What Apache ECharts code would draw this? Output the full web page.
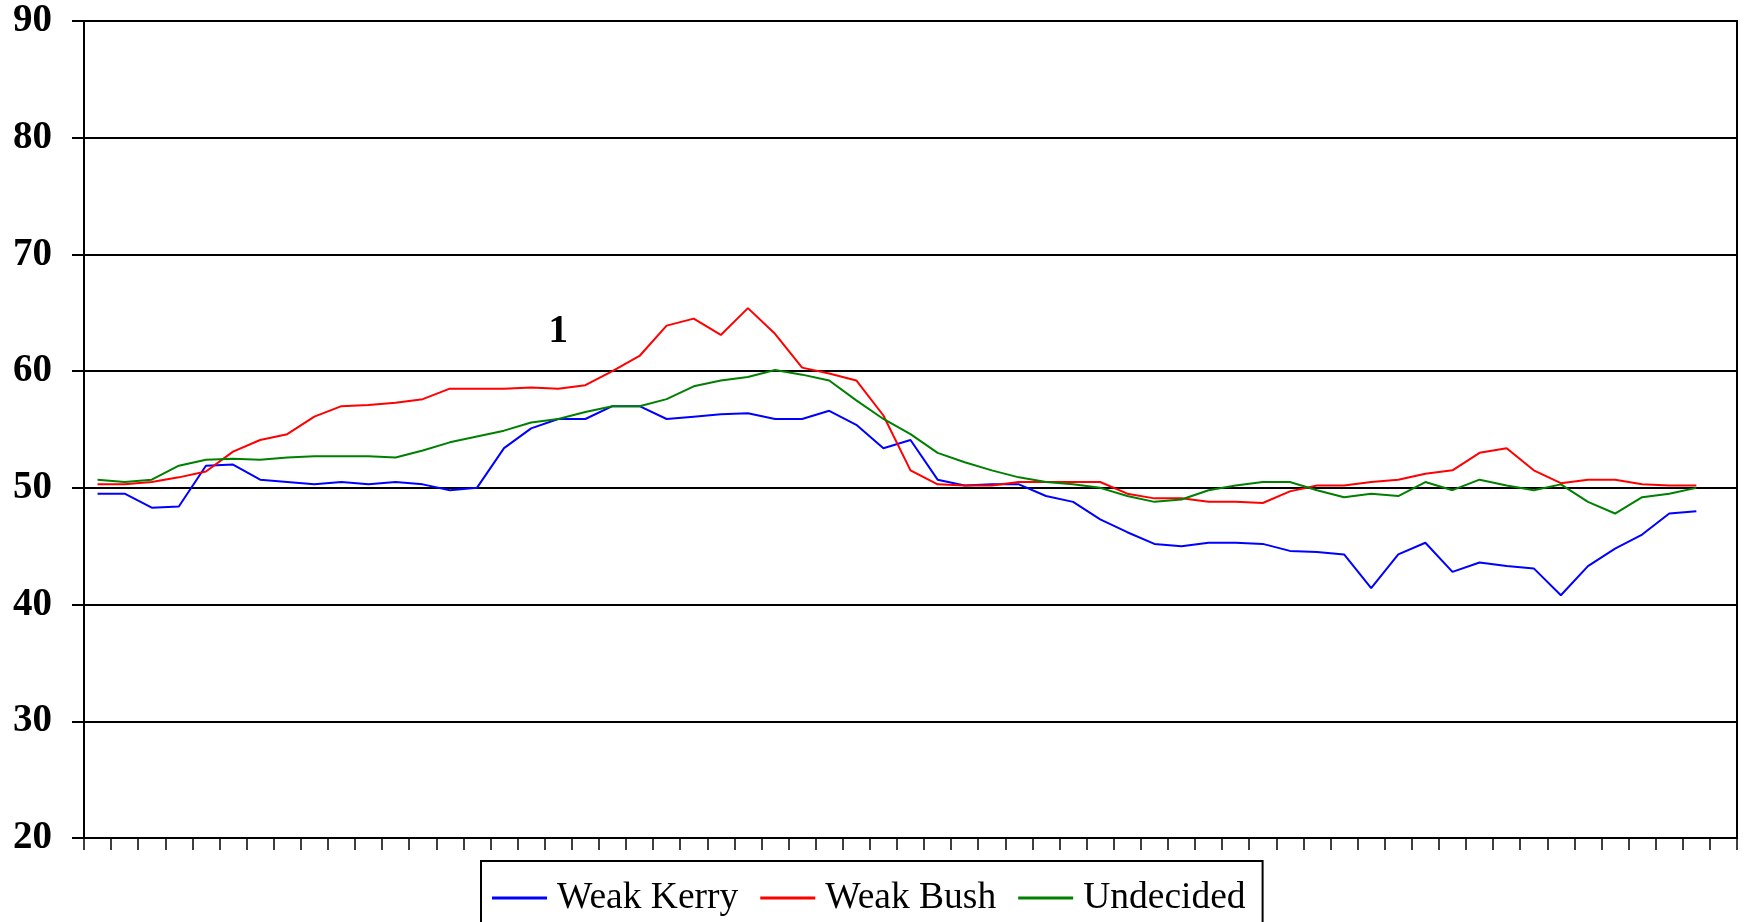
<!DOCTYPE html>
<html>
<head>
<meta charset="utf-8">
<script src="https://cdn.jsdelivr.net/npm/echarts@6/dist/echarts.min.js"></script>
<style>
html,body{margin:0;padding:0;background:#fff;}
#chart{width:1746px;height:922px;}
</style>
</head>
<body>
<div id="chart"></div>
<script>
// 61 weekly slots on the x axis (no labels); last slot empty
var categories = Array.from({length: 61}, function (_, i) { return String(i + 1); });

var weakKerry = [49.5,49.5,48.3,48.4,51.9,52.0,50.7,50.5,50.3,50.5,
                 50.3,50.5,50.3,49.8,50.0,53.4,55.1,55.9,55.9,57.0,
                 57.0,55.9,56.1,56.3,56.4,55.9,55.9,56.6,55.4,53.4,
                 54.1,50.7,50.2,50.3,50.3,49.3,48.8,47.3,46.2,45.2,
                 45.0,45.3,45.3,45.2,44.6,44.5,44.3,41.4,44.3,45.3,
                 42.8,43.6,43.3,43.1,40.8,43.3,44.8,46.0,47.8,48.0];

var weakBush = [50.3,50.3,50.5,50.9,51.4,53.1,54.1,54.6,56.1,57.0,
                57.1,57.3,57.6,58.5,58.5,58.5,58.6,58.5,58.8,60.0,
                61.3,63.9,64.5,63.1,65.4,63.2,60.3,59.8,59.2,56.2,
                51.5,50.3,50.2,50.2,50.5,50.5,50.5,50.5,49.5,49.1,
                49.1,48.8,48.8,48.7,49.7,50.2,50.2,50.5,50.7,51.2,
                51.5,53.0,53.4,51.5,50.4,50.7,50.7,50.3,50.2,50.2];

var undecided = [50.7,50.5,50.7,51.9,52.4,52.5,52.4,52.6,52.7,52.7,
                 52.7,52.6,53.2,53.9,54.4,54.9,55.6,55.9,56.5,57.0,
                 57.0,57.6,58.7,59.2,59.5,60.1,59.7,59.2,57.5,55.9,
                 54.6,53.0,52.2,51.5,50.9,50.5,50.3,50.0,49.3,48.8,
                 49.0,49.8,50.2,50.5,50.5,49.8,49.2,49.5,49.3,50.5,
                 49.8,50.7,50.2,49.8,50.3,48.8,47.8,49.2,49.5,50.0];

var seriesNames = ['Weak Kerry', 'Weak Bush', 'Undecided'];
var yTicks = [20, 30, 40, 50, 60, 70, 80, 90];

// annotation "1": category index and value
var noteText = '1';
var noteIndex = 17;
var noteValue = 63.35;

var serif = '"Liberation Serif", "Times New Roman", serif';
var chart = echarts.init(document.getElementById('chart'), null, {renderer: 'canvas'});

function mkSeries(name, data, color, extra) {
  var s = {
    name: name,
    type: 'line',
    data: data,
    symbol: 'none',
    showSymbol: false,
    lineStyle: {color: color, width: 2},
    itemStyle: {color: color},
    animation: false,
    z: 3
  };
  if (extra) { for (var k in extra) s[k] = extra[k]; }
  return s;
}

chart.setOption({
  backgroundColor: '#ffffff',
  animation: false,
  grid: {
    left: 84, right: 9, top: 21, bottom: 84,
    show: true, borderColor: '#000', borderWidth: 2, backgroundColor: 'transparent'
  },
  legend: {
    data: seriesNames,
    left: 481,
    top: 861,
    orient: 'horizontal',
    itemWidth: 55,
    itemHeight: 3,
    itemGap: 22,
    padding: [18, 17, 40, 11],
    borderColor: '#000',
    borderWidth: 2,
    icon: 'rect',
    textStyle: {fontFamily: serif, fontSize: 37.5, color: '#000', padding: [0, 0, 0, 5]},
    selectedMode: false
  },
  xAxis: {
    type: 'category',
    data: categories,
    boundaryGap: true,
    axisLine: {show: true, lineStyle: {color: '#000', width: 2}},
    axisTick: {show: true, length: 12, lineStyle: {color: '#000', width: 1.5}, interval: 0},
    axisLabel: {show: false},
    splitLine: {show: false}
  },
  yAxis: {
    type: 'value',
    min: yTicks[0],
    max: yTicks[yTicks.length - 1],
    interval: 10,
    axisLine: {show: true, lineStyle: {color: '#000', width: 2}},
    axisTick: {show: true, length: 12, lineStyle: {color: '#000', width: 2}},
    axisLabel: {
      show: true, margin: 32, fontFamily: serif, fontSize: 39, fontWeight: 'bold', color: '#000'
    },
    splitLine: {show: true, lineStyle: {color: '#000', width: 2}}
  },
  series: [
    mkSeries(seriesNames[0], weakKerry, '#0000ff'),
    mkSeries(seriesNames[1], weakBush, '#ff0000', {
      markPoint: {
        symbol: 'circle',
        symbolSize: 0,
        silent: true,
        data: [{
          coord: [noteIndex, noteValue],
          label: {
            show: true, position: 'inside', formatter: noteText,
            fontFamily: serif, fontSize: 39, fontWeight: 'bold', color: '#000'
          }
        }]
      }
    }),
    mkSeries(seriesNames[2], undecided, '#008000')
  ]
});
</script>
</body>
</html>
